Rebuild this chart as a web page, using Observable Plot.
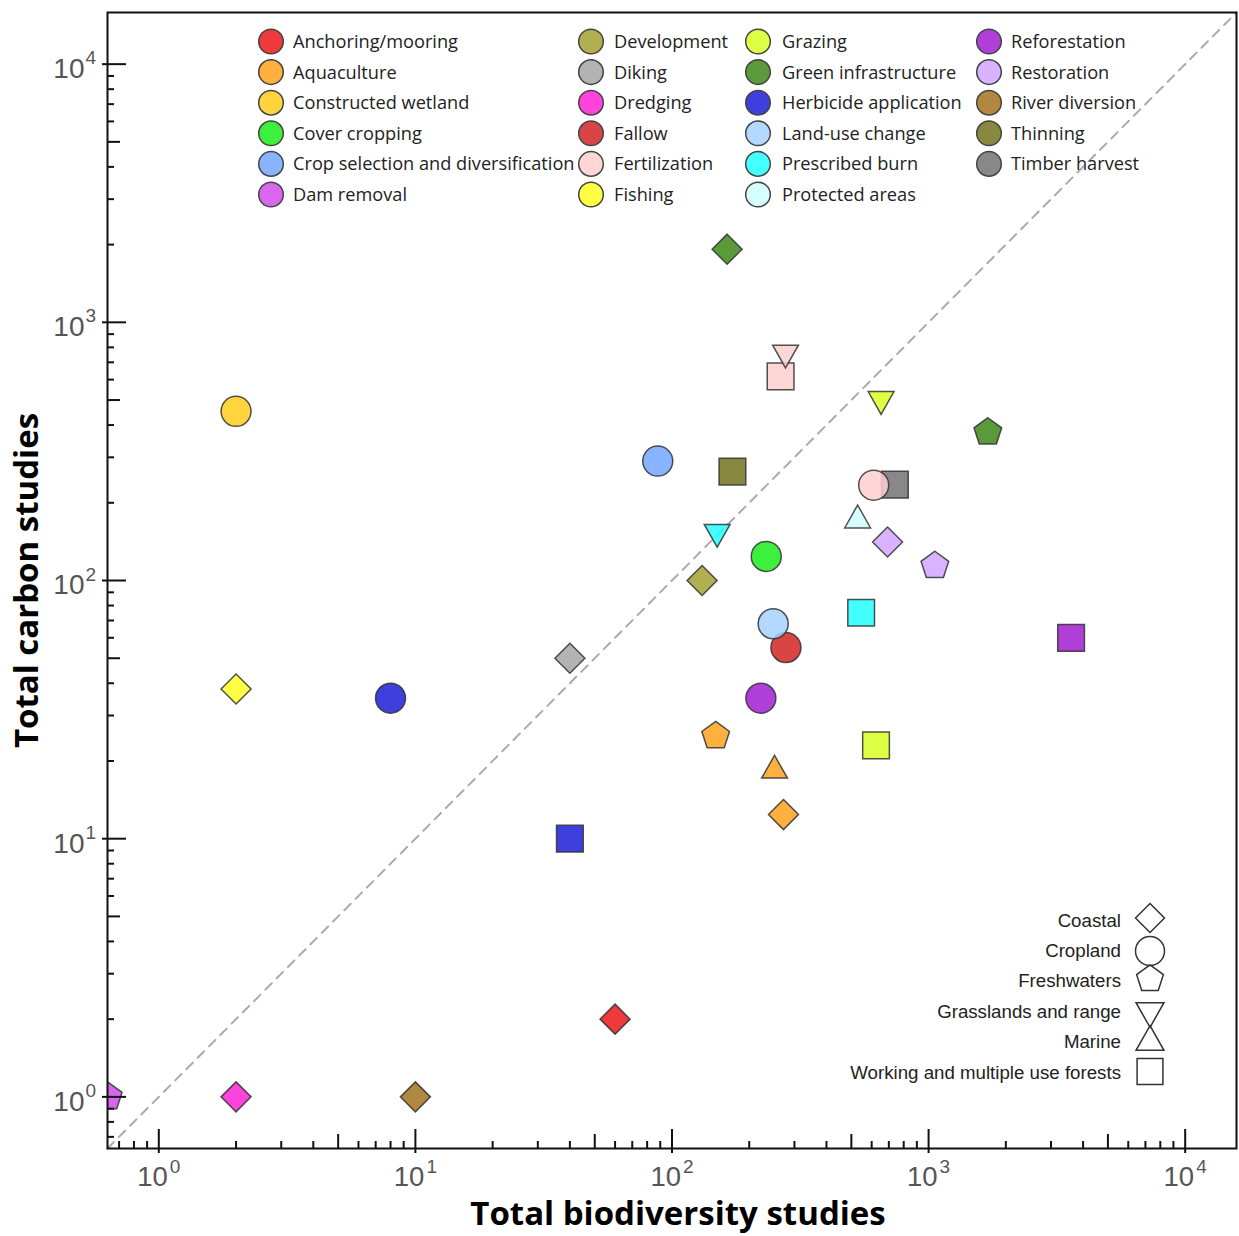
<!DOCTYPE html>
<html><head><meta charset="utf-8">
<script src="https://cdn.jsdelivr.net/npm/d3@7"></script>
<script src="https://cdn.jsdelivr.net/npm/@observablehq/plot@0.6"></script>
<style>body{margin:0;background:#fff}</style>
</head><body><div id="chart"></div>
<script>
// ---- data ----
const categories = ["Anchoring/mooring","Aquaculture","Constructed wetland","Cover cropping","Crop selection and diversification","Dam removal",
  "Development","Diking","Dredging","Fallow","Fertilization","Fishing",
  "Grazing","Green infrastructure","Herbicide application","Land-use change","Prescribed burn","Protected areas",
  "Reforestation","Restoration","River diversion","Thinning","Timber harvest"];
const categoryColors = ["#eb1818","#ffa21d","#ffcc1d","#1ced1c","#73a7ff","#d24bec",
  "#a2a231","#a6a6a6","#ff23d7","#d22323","#ffcfcf","#ffff23",
  "#d7ff23","#3d8817","#1d1dd7","#a6d2ff","#23ffff","#cfffff",
  "#a21dd2","#d2a6ff","#a2731e","#73731e","#737373"];
const habitatNames = ["Coastal","Cropland","Freshwaters","Grasslands and range","Marine","Working and multiple use forests"];
const habitatShapes = ["diamond","circle","pentagon","triDown","triUp","square"];

const pointPractice = ["Green infrastructure","Fertilization","Fertilization","Grazing","Constructed wetland","Green infrastructure",
  "Crop selection and diversification","Thinning","Timber harvest","Fertilization","Protected areas","Prescribed burn",
  "Restoration","Cover cropping","Restoration","Development","Prescribed burn","Reforestation",
  "Fallow","Land-use change","Diking","Fishing","Herbicide application","Reforestation",
  "Aquaculture","Grazing","Aquaculture","Aquaculture","Herbicide application","Anchoring/mooring",
  "Dredging","River diversion","Dam removal"];
const pointHabitat = ["Coastal","Working and multiple use forests","Grasslands and range","Grasslands and range","Cropland","Freshwaters",
  "Cropland","Working and multiple use forests","Working and multiple use forests","Cropland","Marine","Grasslands and range",
  "Coastal","Cropland","Freshwaters","Coastal","Working and multiple use forests","Working and multiple use forests",
  "Cropland","Cropland","Coastal","Coastal","Cropland","Cropland",
  "Freshwaters","Working and multiple use forests","Marine","Coastal","Working and multiple use forests","Coastal",
  "Coastal","Coastal","Freshwaters"];
const biodiversityStudies = [164,265,277,653,2,1702,
  88,172,739,611,529,150,
  692,233,1058,131,546,3592,
  278,248,40,2,8,222,
  148,624,251,272,40,60,
  2,10,0.635];
const carbonStudies = [1920,617,737,487,452,375,
  290,264,235,234,177,149,
  141,124,114,100,75,60,
  55,68,50,38,35,35,
  25,23,19,12.4,10,2,
  1,1,1];

const axisDomain = [0.631, 15850];
const decadeTicks = [1,10,100,1000,10000];
const fiveTicks = [5,50,500,5000];
const minorTicks = [0.7,0.8,0.9,2,3,4,6,7,8,9,20,30,40,60,70,80,90,200,300,400,600,700,800,900,2000,3000,4000,6000,7000,8000,9000];

// ---- symbols ----
function makeSymbol(kind, triScale = 1){
  return {draw(ctx, size){
    const r = Math.sqrt(size/Math.PI);
    if(kind==="circle"){ ctx.moveTo(r,0); ctx.arc(0,0,r,0,2*Math.PI); }
    else if(kind==="diamond"){ ctx.moveTo(0,-r); ctx.lineTo(r,0); ctx.lineTo(0,r); ctx.lineTo(-r,0); }
    else if(kind==="square"){ const h=0.89*r; ctx.moveTo(-h,-h); ctx.lineTo(h,-h); ctx.lineTo(h,h); ctx.lineTo(-h,h); }
    else if(kind==="pentagon"){ const R=0.97*r; for(let k=0;k<5;k++){ const a=-Math.PI/2+k*2*Math.PI/5; const px=R*Math.cos(a), py=R*Math.sin(a); if(k) ctx.lineTo(px,py); else ctx.moveTo(px,py);} }
    else if(kind==="triUp"){ const w=0.86*r*triScale, h=0.76*r*triScale; ctx.moveTo(0,-h); ctx.lineTo(w,h); ctx.lineTo(-w,h); }
    else if(kind==="triDown"){ const w=0.86*r*triScale, h=0.76*r*triScale; ctx.moveTo(0,h); ctx.lineTo(w,-h); ctx.lineTo(-w,-h); }
    ctx.closePath();
  }};
}
const habitatSymbols = habitatShapes.map(k => makeSymbol(k));
const legendSymbols = habitatShapes.map(k => makeSymbol(k, 1.12));

const data = biodiversityStudies.map((x,i)=>({x, y: carbonStudies[i], practice: pointPractice[i], habitat: pointHabitat[i]}));

const W = 1239, H = 1236, ML = 107, MR = 3, MT = 12, MB = 88;
const innerW = W-ML-MR, innerH = H-MT-MB;
const tickColor = "#111";
const labelFont = "'Liberation Sans', Arial, sans-serif";
const titleFont = "'Open Sans', sans-serif";

const plot = Plot.plot({
  width: W, height: H, marginLeft: ML, marginRight: MR, marginTop: MT, marginBottom: MB,
  x: {type: "log", domain: axisDomain, axis: null},
  y: {type: "log", domain: axisDomain, axis: null},
  color: {domain: categories, range: categoryColors},
  symbol: {domain: habitatNames, range: habitatSymbols},
  style: {fontFamily: labelFont, background: "#fff", overflow: "visible"},
  marks: [
    Plot.line(axisDomain, {x: d=>d, y: d=>d, stroke: "#ababab", strokeWidth: 2, strokeDasharray: "9,7"}),
    Plot.dot(data, {x: "x", y: "y", fill: "practice", symbol: "habitat", r: 15, stroke: "#333", strokeWidth: 1.5, fillOpacity: 0.85, strokeOpacity: 0.85, clip: true}),
    // x ticks (inward)
    Plot.ruleX(decadeTicks, {x: d=>d, insetTop: innerH-19, insetBottom: -5, stroke: tickColor, strokeWidth: 2}),
    Plot.ruleX(fiveTicks, {x: d=>d, insetTop: innerH-14, stroke: tickColor, strokeWidth: 2}),
    Plot.ruleX(minorTicks, {x: d=>d, insetTop: innerH-7, stroke: tickColor, strokeWidth: 2}),
    // y ticks (inward)
    Plot.ruleY(decadeTicks, {y: d=>d, insetRight: innerW-19, insetLeft: -5, stroke: tickColor, strokeWidth: 2}),
    Plot.ruleY(fiveTicks, {y: d=>d, insetRight: innerW-13, stroke: tickColor, strokeWidth: 2}),
    Plot.ruleY(minorTicks, {y: d=>d, insetRight: innerW-7, stroke: tickColor, strokeWidth: 2}),
    Plot.frame({stroke: tickColor, strokeWidth: 2}),
    // x tick labels
    Plot.text(decadeTicks, {x: d=>d, frameAnchor: "bottom", lineAnchor: "middle", text: ()=>"10", textAnchor: "end", dx: 9, dy: 29, fontSize: 27.5, fill: "#555"}),
    Plot.text(decadeTicks, {x: d=>d, frameAnchor: "bottom", lineAnchor: "middle", text: d=>String(Math.round(Math.log10(d))), textAnchor: "start", dx: 11, dy: 18, fontSize: 19, fill: "#555"}),
    // y tick labels
    Plot.text(decadeTicks, {y: d=>d, frameAnchor: "left", lineAnchor: "middle", text: ()=>"10", textAnchor: "end", dx: -23, dy: 5, fontSize: 28, fill: "#555"}),
    Plot.text(decadeTicks, {y: d=>d, frameAnchor: "left", lineAnchor: "middle", text: d=>String(Math.round(Math.log10(d))), textAnchor: "start", dx: -22, dy: -6, fontSize: 19, fill: "#555"}),
    // axis titles
    Plot.text(["Total biodiversity studies"], {frameAnchor: "bottom", lineAnchor: "middle", textAnchor: "middle", text: d=>d, dx: 6, dy: 66, fontSize: 33, fontWeight: "bold", fontFamily: titleFont, fill: "#000"}),
    Plot.text(["Total carbon studies"], {frameAnchor: "left", lineAnchor: "middle", textAnchor: "middle", text: d=>d, rotate: -90, dx: -80, fontSize: 33, fontWeight: "bold", fontFamily: titleFont, fill: "#000"})
  ]
});
document.getElementById("chart").appendChild(plot);

// ---- legends ----
const svg = d3.select(plot);
const colCircleX = [271, 591, 758, 989];
const colTextX = [293, 614, 782, 1011];
const colStart = [0, 6, 12, 18];
const leg = svg.append("g").attr("font-family", titleFont).attr("font-size", 18.2).attr("fill", "#222").attr("text-anchor", "start");
categories.forEach((c, i) => {
  const col = i < 6 ? 0 : i < 12 ? 1 : i < 18 ? 2 : 3;
  const row = i - colStart[col];
  const cy = 41.5 + row*30.6;
  leg.append("circle").attr("cx", colCircleX[col]).attr("cy", cy).attr("r", 12.3)
    .attr("fill", categoryColors[i]).attr("fill-opacity", 0.85).attr("stroke", "#444").attr("stroke-width", 1.5);
  leg.append("text").attr("x", colTextX[col]).attr("y", cy).attr("dy", "0.36em").attr("text-anchor", "start").text(c);
});

const shapeTextY = [920, 950.5, 980.5, 1011, 1041.5, 1072];
const shapeSymY = [918, 951, 979, 1015, 1038, 1071.5];
const sleg = svg.append("g").attr("font-family", labelFont).attr("font-size", 18.7).attr("fill", "#222");
habitatNames.forEach((h, i) => {
  sleg.append("text").attr("x", 1121).attr("y", shapeTextY[i]).attr("dy", "0.36em").attr("text-anchor", "end").text(h);
  sleg.append("path").attr("transform", `translate(1150,${shapeSymY[i]})`)
    .attr("d", d3.symbol(legendSymbols[i], Math.PI*14.5*14.5)())
    .attr("fill", "none").attr("stroke", "#333").attr("stroke-width", 1.5);
});
</script></body></html>
